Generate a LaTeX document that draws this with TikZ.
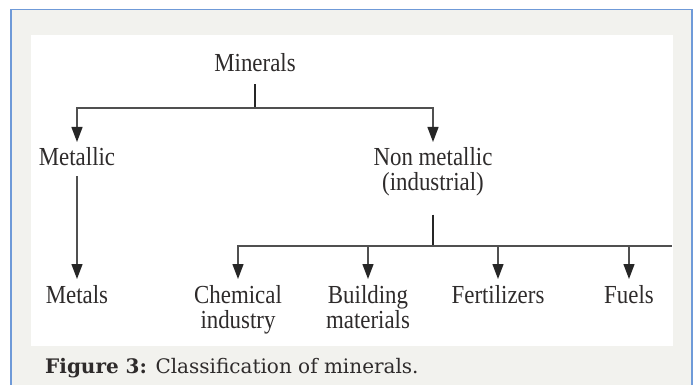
\documentclass[tikz,border=0pt]{standalone}
\usepackage{fontspec}
\usetikzlibrary{arrows.meta}
\newfontfamily\diagfont[FakeStretch=0.88]{Liberation Serif}
\newfontfamily\capfont{DejaVu Serif}
\definecolor{panelbg}{HTML}{F2F2EE}
\definecolor{panelbd}{HTML}{6F9AD8}
\definecolor{txt}{HTML}{2E2B2B}
\definecolor{lin}{HTML}{505050}
\tikzset{
  lbl/.style={font=\diagfont\fontsize{26}{25}\selectfont, text=txt, inner sep=0pt, outer sep=0pt, align=center, anchor=north},
  conn/.style={draw=lin, line width=1.3pt},
  stemline/.style={draw=black!85, line width=2pt},
  arr/.style={conn, -{Triangle[width=11pt,length=15pt]}, arrows={[color=black!85]}},
}
\begin{document}
\begin{tikzpicture}[x=1pt,y=-1pt]
\useasboundingbox (0,0) rectangle (694,385);
% panels
\fill[panelbg] (11,9.5) rectangle (692,386);
\draw[panelbd, line width=1.2pt] (11,386) -- (11,9.5) -- (692,9.5) -- (692,386);
\fill[white] (31,35) rectangle (673,346);
% nodes
\node[lbl] (minerals) at (255,53) {Minerals};
\node[lbl] (metallic) at (77,147) {Metallic};
\node[lbl] (nonmet) at (433,147) {Non metallic\\(industrial)};
\node[lbl] (metals) at (77,285) {Metals};
\node[lbl] (chem) at (238,285) {Chemical\\industry};
\node[lbl] (build) at (368,285) {Building\\materials};
\node[lbl] (fert) at (498,285) {Fertilizers};
\node[lbl] (fuels) at (629,285) {Fuels};
\coordinate (j1) at (255,108);
\coordinate (j2) at (433,246);
\coordinate (rend) at (672,246);
% connectors
\draw[stemline, shorten <=13pt] (minerals.south) -- (j1);
\draw[arr, shorten >=5pt] (j1) -| (metallic.north);
\draw[arr, shorten >=5pt] (j1) -| (nonmet.north);
\draw[arr, shorten <=11pt, shorten >=6pt] (metallic.south) -- (metals.north);
\draw[stemline, shorten <=19pt] (nonmet.south) -- (j2);
\draw[conn] (j2) -- (rend);
\draw[arr, shorten >=6pt] (j2) -| (chem.north);
\draw[arr, shorten >=6pt] (build.north |- j2) -- (build.north);
\draw[arr, shorten >=6pt] (fert.north |- j2) -- (fert.north);
\draw[arr, shorten >=6pt] (fuels.north |- j2) -- (fuels.north);
% caption
\node[font=\capfont\fontsize{20}{22}\selectfont, text=txt, anchor=base west, inner sep=0pt] (cap) at (45,373) {\textbf{Figure 3:} Classification of minerals.};
\end{tikzpicture}
\end{document}
